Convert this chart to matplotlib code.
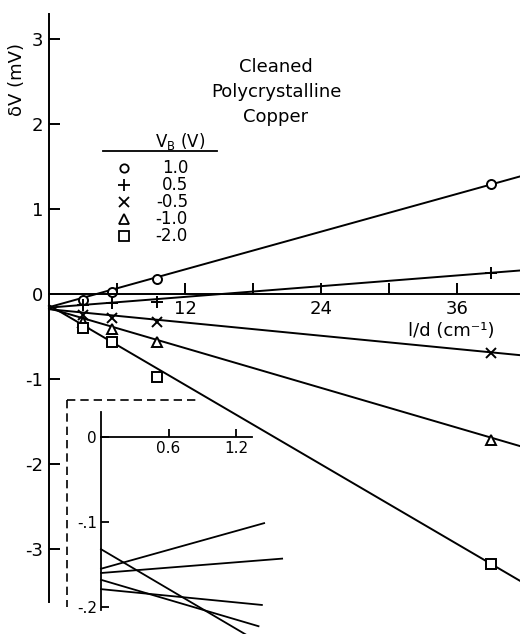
import matplotlib
matplotlib.use("Agg")
import matplotlib.pyplot as plt
import numpy as np

# bias voltages and their symbols
vb_labels = ["1.0", "0.5", "-0.5", "-1.0", "-2.0"]
vb_markers = ["o", "+", "x", "^", "s"]

# measured points, 1/d in cm^-1 and dV in mV
inv_d = [3.0, 5.6, 9.5, 39.0]
dv_p10 = [-0.07, 0.02, 0.18, 1.29]
dv_p05 = [-0.13, -0.11, -0.09, 0.25]
dv_m05 = [-0.25, -0.28, -0.33, -0.69]
dv_m10 = [-0.33, -0.41, -0.56, -1.72]
dv_m20 = [-0.40, -0.56, -0.98, -3.18]
dv_all = [dv_p10, dv_p05, dv_m05, dv_m10, dv_m20]

# fitted straight lines
slopes = [0.037, 0.0105, -0.013, -0.039, -0.078]
intercepts = [-0.155, -0.160, -0.179, -0.168, -0.132]
inset_xend = [1.45, 1.61, 1.43, 1.40, 1.40]

main_yticks = [3, 2, 1, 0, -1, -2, -3]
main_xticks = [6, 12, 18, 24, 30, 36]
main_xlabels = ["", "12", "", "24", "", "36"]
inset_yticks = [0, -0.1, -0.2]
inset_ylabels = ["0", "-.1", "-.2"]
inset_xticks = [0.6, 1.2]
inset_xlabels = ["0.6", "1.2"]

W, H = 520, 634
plt.rcParams["font.family"] = "DejaVu Sans"

# marker sizes per symbol
msize = {"o": 6.5, "+": 9, "x": 7, "^": 7, "s": 7.5}


def fxy(px, py):
    return px / W, 1 - py / H


fig = plt.figure(figsize=(W / 100, H / 100), dpi=100)

# main axes fills the figure; origin at pixel (49, 294)
ax = fig.add_axes([0, 0, 1, 1])
x0, sx = 49, 11.33
y0, sy = 294, 85.0
ax.set_xlim(-x0 / sx, (W - x0) / sx)
ax.set_ylim(-(H - y0) / sy, y0 / sy)
ax.patch.set_alpha(0)
for s in ["top", "right"]:
    ax.spines[s].set_visible(False)
ax.spines["left"].set_position(("data", 0))
ax.spines["bottom"].set_position(("data", 0))
ax.spines["left"].set_bounds(-3.62, 3.3)
ax.spines["bottom"].set_bounds(0, 41.5)
ax.spines["left"].set_linewidth(1.4)
ax.spines["bottom"].set_linewidth(1.4)
ax.set_yticks(main_yticks)
ax.set_yticklabels([str(v) for v in main_yticks])
ax.set_xticks(main_xticks)
ax.set_xticklabels(main_xlabels)
ax.tick_params(direction="in", length=8, width=1.4, labelsize=13)
ax.tick_params(axis="y", pad=4)
ax.tick_params(axis="x", pad=4)

xl = np.array([0, 41.6])
for i in range(len(vb_labels)):
    ax.plot(xl, intercepts[i] + slopes[i] * xl, color="black", lw=1.4)
    ax.plot(inv_d, dv_all[i], linestyle="none", marker=vb_markers[i],
            ms=msize[vb_markers[i]], mfc="white", mec="black", mew=1.4)

fig.text(*fxy(17, 80), "δV (mV)", rotation=90, ha="center", va="center", fontsize=13)
fig.text(*fxy(451, 331), "l/d (cm⁻¹)", ha="center", va="center", fontsize=13)

for j, t in enumerate(["Cleaned", "Polycrystalline", "Copper"]):
    fig.text(*fxy(276, 67 + 25 * j), t, ha="center", va="center", fontsize=13)

# legend block
fig.text(*fxy(180, 142), r"V$_\mathrm{B}$ (V)", ha="center", va="center", fontsize=12)
fig.add_artist(plt.Line2D([103 / W, 217 / W], [1 - 151 / H, 1 - 151 / H],
                          color="black", lw=1.3))
for i in range(len(vb_labels)):
    py = 168 + 17 * i
    fig.add_artist(plt.Line2D([124 / W], [1 - py / H], marker=vb_markers[i],
                              ms=msize[vb_markers[i]] - 0.5, mfc="white",
                              mec="black", mew=1.3, ls="none"))
    fig.text(*fxy(188, py), vb_labels[i], ha="right", va="center", fontsize=12)

# inset, origin at pixel (101, 437)
ix0, isx = 101, 112.5
iy0, isy = 437, 850.0
L, T, R, B = 58, 392, 310, 634
axi = fig.add_axes([L / W, 1 - B / H, (R - L) / W, (B - T) / H])
axi.set_xlim((L - ix0) / isx, (R - ix0) / isx)
axi.set_ylim(-(B - iy0) / isy, (iy0 - T) / isy)
axi.patch.set_alpha(0)
for s in ["top", "right"]:
    axi.spines[s].set_visible(False)
axi.spines["left"].set_position(("data", 0))
axi.spines["bottom"].set_position(("data", 0))
axi.spines["left"].set_bounds(-0.204, 0.03)
axi.spines["bottom"].set_bounds(0, 1.34)
axi.spines["left"].set_linewidth(1.3)
axi.spines["bottom"].set_linewidth(1.3)
axi.set_yticks(inset_yticks)
axi.set_yticklabels(inset_ylabels)
axi.set_xticks(inset_xticks)
axi.set_xticklabels(inset_xlabels)
axi.tick_params(direction="in", length=6, width=1.3, labelsize=11, pad=3)

for i in range(len(vb_labels)):
    xs = np.array([0, inset_xend[i]])
    axi.plot(xs, intercepts[i] + slopes[i] * xs, color="black", lw=1.3)

# dashed frame on top and left of the inset
bx = (67 - ix0) / isx
by = (iy0 - 400) / isy
axi.plot([bx, (197 - ix0) / isx], [by, by], color="black", lw=1.2, ls=(0, (5, 3)))
axi.plot([bx, bx], [by, -(607 - iy0) / isy], color="black", lw=1.2, ls=(0, (5, 3)))

fig.savefig("out.png", dpi=100)
